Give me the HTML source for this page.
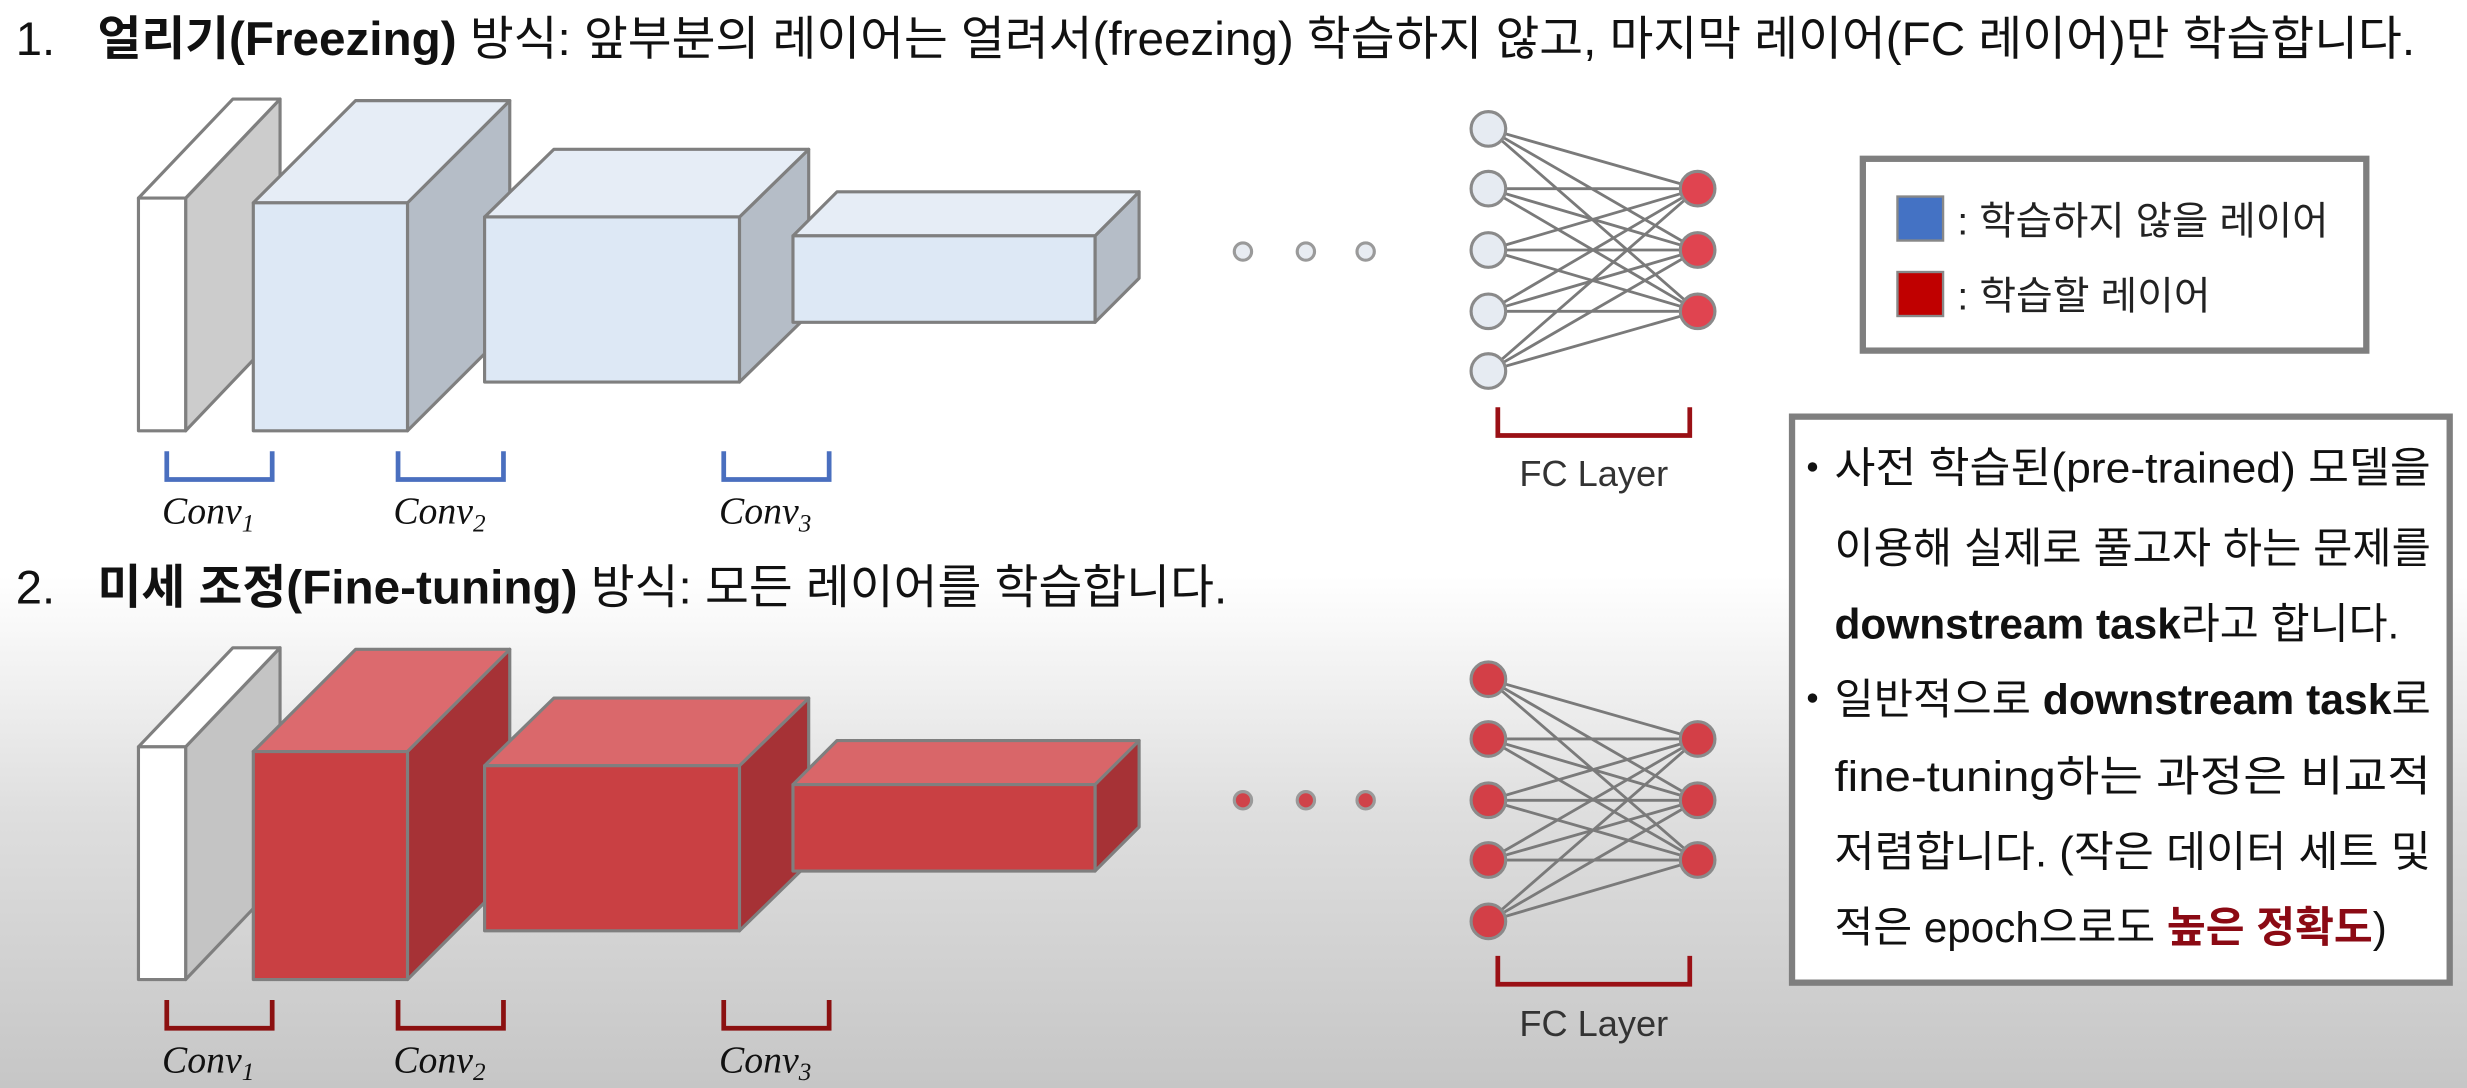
<!DOCTYPE html>
<html><head><meta charset="utf-8"><style>
html,body{margin:0;padding:0;width:2467px;height:1088px;overflow:hidden;background:#fff}
svg{display:block}
text{font-family:"Liberation Sans","Noto Sans CJK KR",sans-serif}
.c{font-family:"Liberation Serif","DejaVu Serif",serif;font-style:italic}
</style></head><body>
<svg width="2467" height="1088" viewBox="0 0 1568 692" preserveAspectRatio="none" xmlns="http://www.w3.org/2000/svg">
<defs>
<linearGradient id="bg" x1="0" y1="0" x2="0" y2="1">
<stop offset="0" stop-color="#ffffff"/><stop offset="0.53" stop-color="#ffffff"/><stop offset="0.75" stop-color="#dedede"/><stop offset="1" stop-color="#c6c6c6"/>
</linearGradient>
</defs>
<rect x="0" y="0" width="1568" height="692" fill="url(#bg)"/>

<text x="10" y="35" font-size="30" fill="#111">1.</text>
<text x="62" y="35" font-size="30" fill="#111" textLength="1473" lengthAdjust="spacingAndGlyphs"><tspan font-weight="bold">얼리기(Freezing)</tspan> 방식: 앞부분의 레이어는 얼려서(freezing) 학습하지 않고, 마지막 레이어(FC 레이어)만 학습합니다.</text>
<text x="10" y="384" font-size="30" fill="#111">2.</text>
<text x="62" y="384" font-size="30" fill="#111" textLength="718" lengthAdjust="spacingAndGlyphs"><tspan font-weight="bold">미세 조정(Fine-tuning)</tspan> 방식: 모든 레이어를 학습합니다.</text>

<g stroke="#7f7f7f" stroke-width="2" stroke-linejoin="round">
<polygon points="118,126 178,63 178,211 118,274" fill="#cccccc"/>
<polygon points="88,126 148,63 178,63 118,126" fill="#fff"/>
<rect x="88" y="126" width="30" height="148" fill="#fff"/>
<polygon points="259,129 324,64 324,209 259,274" fill="#b5bdc7"/>
<polygon points="161,129 226,64 324,64 259,129" fill="#e6edf6"/>
<rect x="161" y="129" width="98" height="145" fill="#dde8f5"/>
<polygon points="470,138 514,95 514,200 470,243" fill="#b5bdc7"/>
<polygon points="308,138 352,95 514,95 470,138" fill="#e6edf6"/>
<rect x="308" y="138" width="162" height="105" fill="#dde8f5"/>
<polygon points="696,150 724,122 724,177 696,205" fill="#b5bdc7"/>
<polygon points="504,150 532,122 724,122 696,150" fill="#e6edf6"/>
<rect x="504" y="150" width="192" height="55" fill="#dde8f5"/>
<polygon points="118,475 178,412 178,560 118,623" fill="#c4c4c4"/>
<polygon points="88,475 148,412 178,412 118,475" fill="#fff"/>
<rect x="88" y="475" width="30" height="148" fill="#fff"/>
<polygon points="259,478 324,413 324,558 259,623" fill="#a63236"/>
<polygon points="161,478 226,413 324,413 259,478" fill="#dc6a6e"/>
<rect x="161" y="478" width="98" height="145" fill="#c94043"/>
<polygon points="470,487 514,444 514,549 470,592" fill="#a63236"/>
<polygon points="308,487 352,444 514,444 470,487" fill="#da686b"/>
<rect x="308" y="487" width="162" height="105" fill="#c94043"/>
<polygon points="696,499 724,471 724,526 696,554" fill="#a63236"/>
<polygon points="504,499 532,471 724,471 696,499" fill="#d96669"/>
<rect x="504" y="499" width="192" height="55" fill="#c94043"/>
</g>

<g fill="none" stroke-width="3">
<path d="M106,287 V305 H173 V287" stroke="#4a6fbf"/>
<path d="M253,287 V305 H320 V287" stroke="#4a6fbf"/>
<path d="M460,287 V305 H527 V287" stroke="#4a6fbf"/>
<path d="M106,636 V654 H173 V636" stroke="#8b1010"/>
<path d="M253,636 V654 H320 V636" stroke="#8b1010"/>
<path d="M460,636 V654 H527 V636" stroke="#8b1010"/>
<path d="M952,259 V277 H1074 V259" stroke="#9a1015"/>
<path d="M952,608 V626 H1074 V608" stroke="#9a1015"/>
</g>
<g font-size="24" fill="#111">
<text class="c" x="103" y="333">Conv<tspan font-size="16" dy="5">1</tspan></text>
<text class="c" x="250" y="333">Conv<tspan font-size="16" dy="5">2</tspan></text>
<text class="c" x="457" y="333">Conv<tspan font-size="16" dy="5">3</tspan></text>
<text class="c" x="103" y="682">Conv<tspan font-size="16" dy="5">1</tspan></text>
<text class="c" x="250" y="682">Conv<tspan font-size="16" dy="5">2</tspan></text>
<text class="c" x="457" y="682">Conv<tspan font-size="16" dy="5">3</tspan></text>
</g>
<text x="1013" y="309" text-anchor="middle" font-size="23" fill="#333">FC Layer</text>
<text x="1013" y="659" text-anchor="middle" font-size="23" fill="#333">FC Layer</text>

<g stroke="#9a9a9a" stroke-width="2">
<circle cx="790" cy="160" r="5.5" fill="#e8ecf2"/><circle cx="830" cy="160" r="5.5" fill="#e8ecf2"/><circle cx="868" cy="160" r="5.5" fill="#e8ecf2"/>
<circle cx="790" cy="509" r="5.5" fill="#d0434a"/><circle cx="830" cy="509" r="5.5" fill="#d0434a"/><circle cx="868" cy="509" r="5.5" fill="#d0434a"/>
</g>

<g stroke="#7a7a7a" stroke-width="1.8">
<path d="M946,82 L1079,120 M946,82 L1079,159 M946,82 L1079,198 M946,120 L1079,120 M946,120 L1079,159 M946,120 L1079,198 M946,159 L1079,120 M946,159 L1079,159 M946,159 L1079,198 M946,198 L1079,120 M946,198 L1079,159 M946,198 L1079,198 M946,236 L1079,120 M946,236 L1079,159 M946,236 L1079,198"/>
<path d="M946,432 L1079,470 M946,432 L1079,509 M946,432 L1079,547 M946,470 L1079,470 M946,470 L1079,509 M946,470 L1079,547 M946,509 L1079,470 M946,509 L1079,509 M946,509 L1079,547 M946,547 L1079,470 M946,547 L1079,509 M946,547 L1079,547 M946,586 L1079,470 M946,586 L1079,509 M946,586 L1079,547"/>
</g>
<g stroke="#8a8a8a" stroke-width="2">
<circle cx="946" cy="82" r="11" fill="#e6ebf2"/><circle cx="946" cy="120" r="11" fill="#e6ebf2"/><circle cx="946" cy="159" r="11" fill="#e6ebf2"/><circle cx="946" cy="198" r="11" fill="#e6ebf2"/><circle cx="946" cy="236" r="11" fill="#e6ebf2"/>
<circle cx="1079" cy="120" r="11" fill="#e04450"/><circle cx="1079" cy="159" r="11" fill="#e04450"/><circle cx="1079" cy="198" r="11" fill="#e04450"/>
<circle cx="946" cy="432" r="11" fill="#d33f47"/><circle cx="946" cy="470" r="11" fill="#d33f47"/><circle cx="946" cy="509" r="11" fill="#d33f47"/><circle cx="946" cy="547" r="11" fill="#d33f47"/><circle cx="946" cy="586" r="11" fill="#d33f47"/>
<circle cx="1079" cy="470" r="11" fill="#d33f47"/><circle cx="1079" cy="509" r="11" fill="#d33f47"/><circle cx="1079" cy="547" r="11" fill="#d33f47"/>
</g>

<rect x="1184" y="101" width="320" height="122" fill="#fff" stroke="#7f7f7f" stroke-width="4"/>
<rect x="1206" y="125" width="29" height="28" fill="#4472c4" stroke="#888" stroke-width="1.5"/>
<rect x="1206" y="173" width="29" height="28" fill="#c00000" stroke="#888" stroke-width="1.5"/>
<text x="1244" y="149" font-size="25" fill="#222" textLength="236" lengthAdjust="spacingAndGlyphs">: 학습하지 않을 레이어</text>
<text x="1244" y="197" font-size="25" fill="#222" textLength="161" lengthAdjust="spacingAndGlyphs">: 학습할 레이어</text>

<rect x="1139" y="265" width="418" height="360" fill="#fff" stroke="#7f7f7f" stroke-width="4"/>
<g font-size="27" fill="#111">
<circle cx="1152" cy="297" r="3" fill="#111"/>
<text x="1166" y="307" textLength="379" lengthAdjust="spacingAndGlyphs">사전  학습된(pre-trained)  모델을</text>
<text x="1166" y="358" textLength="379" lengthAdjust="spacingAndGlyphs">이용해 실제로 풀고자 하는 문제를</text>
<text x="1166" y="406" textLength="359" lengthAdjust="spacingAndGlyphs"><tspan font-weight="bold">downstream task</tspan>라고 합니다.</text>
<circle cx="1152" cy="444" r="3" fill="#111"/>
<text x="1166" y="454" textLength="379" lengthAdjust="spacingAndGlyphs">일반적으로 <tspan font-weight="bold">downstream task</tspan>로</text>
<text x="1166" y="503" textLength="379" lengthAdjust="spacingAndGlyphs">fine-tuning하는  과정은  비교적</text>
<text x="1166" y="551" textLength="379" lengthAdjust="spacingAndGlyphs">저렴합니다. (작은 데이터 세트 및</text>
<text x="1166" y="599" textLength="351" lengthAdjust="spacingAndGlyphs">적은 epoch으로도 <tspan fill="#8b0a14" font-weight="bold">높은 정확도</tspan>)</text>
</g>
</svg>
</body></html>
